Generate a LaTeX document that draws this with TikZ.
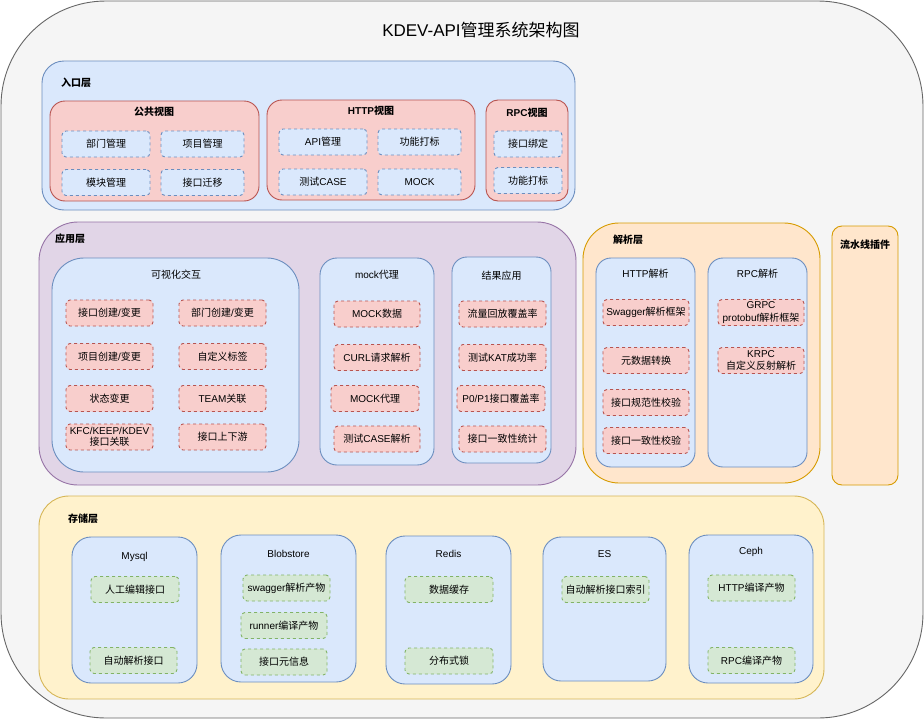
\documentclass[tikz,border=0pt]{standalone}
\usepackage{fontspec}
\setmainfont{Liberation Sans}
\newfontfamily\cjkfont{Noto Sans CJK SC}
\newfontfamily\latinfont{Liberation Sans}
% switch to the CJK font for Han characters, back for the rest
\XeTeXinterchartokenstate=1
\newXeTeXintercharclass\cjkclass
\count255="4E00
\loop\ifnum\count255<"A000
  \XeTeXcharclass\count255=\cjkclass
  \advance\count255 by 1
\repeat
\XeTeXinterchartoks 0 \cjkclass={\cjkfont}
\XeTeXinterchartoks 4095 \cjkclass={\cjkfont}
\XeTeXinterchartoks \cjkclass 0={\latinfont}
\usepackage{tikz}
\usetikzlibrary{fit}
\usepackage{xcolor}

\definecolor{greyfill}{HTML}{F5F5F5}  \definecolor{greyline}{HTML}{666666}
\definecolor{bluefill}{HTML}{DAE8FC}  \definecolor{blueline}{HTML}{6C8EBF}
\definecolor{redfill}{HTML}{F8CECC}   \definecolor{redline}{HTML}{B85450}
\definecolor{purplefill}{HTML}{E1D5E7}\definecolor{purpleline}{HTML}{9673A6}
\definecolor{orangefill}{HTML}{FFE6CC}\definecolor{orangeline}{HTML}{D79B00}
\definecolor{yellowfill}{HTML}{FFF2CC}\definecolor{yellowline}{HTML}{D6B656}
\definecolor{greenfill}{HTML}{D5E8D4} \definecolor{greenline}{HTML}{82B366}

\newcommand{\txtsize}{\fontsize{10}{12.5}\selectfont}

\tikzset{
  box/.style={draw=#1line, fill=#1fill, line width=0.9pt, inner sep=0pt, outer sep=0pt},
  panel/.style 2 args={box=#1, rounded corners=#2pt},
  tag/.style={box=#1, dash pattern=on 3pt off 3pt, rounded corners=4pt,
    minimum width=87pt, minimum height=26pt, align=center, font=\txtsize},
  caption/.style={font=\txtsize, inner sep=0pt},
  heading/.style={font=\txtsize\bfseries, inner sep=0pt},
}

\begin{document}
\begin{tikzpicture}[x=1pt,y=-1pt]
\useasboundingbox (0,0) rectangle (924,720);
% background
\node[panel={grey}{105}, fit={(1,1) (923,718)}] (frame) {};
\node[font=\fontsize{17}{20}\selectfont, inner sep=0pt] (title) at (481,30) {KDEV-API管理系统架构图};

% entry layer
\node[panel={blue}{22}, fit={(42,61) (575,210)}] (entry) {};
\node[heading, anchor=west] (entryT) at (61,83) {入口层};
\node[panel={red}{15}, fit={(50,101) (259,201)}] (pubView) {};
\node[heading] (pubViewT) at (154,112) {公共视图};
\node[tag=blue, minimum width=88pt] (deptMgr) at (106,144) {部门管理};
\node[tag=blue, minimum width=83pt] (projMgr) at (202.5,144) {项目管理};
\node[tag=blue, minimum width=88pt] (modMgr) at (106,182.5) {模块管理};
\node[tag=blue, minimum width=83pt] (apiMove) at (202.5,182.5) {接口迁移};
\node[panel={red}{15}, fit={(267,100) (475,200)}] (httpView) {};
\node[heading] (httpViewT) at (371,111) {HTTP视图};
\node[tag=blue, minimum width=88pt] (apiMgr) at (323,142) {API管理};
\node[tag=blue, minimum width=83pt] (httpMark) at (419.5,142) {功能打标};
\node[tag=blue, minimum width=88pt] (testCase) at (323,182) {测试CASE};
\node[tag=blue, minimum width=83pt] (mock) at (419.5,182) {MOCK};
\node[panel={red}{12}, fit={(486,100) (568,201)}] (rpcView) {};
\node[heading] (rpcViewT) at (527,113) {RPC视图};
\node[tag=blue, minimum width=68pt] (apiBind) at (528,144) {接口绑定};
\node[tag=blue, minimum width=68pt] (rpcMark) at (528,180.5) {功能打标};

% application layer
\node[panel={purple}{39}, fit={(39,222) (576,485)}] (app) {};
\node[heading, anchor=west] (appT) at (55,239) {应用层};
\node[panel={blue}{32}, fit={(52,258) (299,472)}] (visual) {};
\node[caption] (visualT) at (176,275) {可视化交互};
\node[tag=red] (apiEdit) at (109.5,313) {接口创建/变更};
\node[tag=red] (deptEdit) at (222.5,313) {部门创建/变更};
\node[tag=red] (projEdit) at (109.5,356.5) {项目创建/变更};
\node[tag=red] (custTag) at (222.5,356.5) {自定义标签};
\node[tag=red] (stateEdit) at (109.5,398.5) {状态变更};
\node[tag=red] (teamLink) at (222.5,398.5) {TEAM关联};
\node[tag=red, font=\fontsize{10}{11.5}\selectfont] (kfcLink) at (109.5,437) {KFC/KEEP/KDEV\\接口关联};
\node[tag=red] (upDown) at (222.5,437) {接口上下游};
\node[panel={blue}{17}, fit={(320,258) (434,465)}] (mockProxy) {};
\node[caption] (mockProxyT) at (377,275) {mock代理};
\node[tag=red, minimum width=86pt] (mockData) at (377,314) {MOCK数据};
\node[tag=red, minimum width=86pt] (curlParse) at (377,357.5) {CURL请求解析};
\node[tag=red, minimum width=88pt] (mockAgent) at (375,398.5) {MOCK代理};
\node[tag=red, minimum width=86pt] (caseParse) at (377,439) {测试CASE解析};
\node[panel={blue}{15}, fit={(452,257) (551,463)}] (result) {};
\node[caption] (resultT) at (501.5,276) {结果应用};
\node[tag=red] (replayCov) at (502.5,314) {流量回放覆盖率};
\node[tag=red] (katRate) at (502.5,357.5) {测试KAT成功率};
\node[tag=red, minimum width=88pt] (p0Cov) at (501,398.5) {P0/P1接口覆盖率};
\node[tag=red] (apiStat) at (502.5,439) {接口一致性统计};

% parse layer
\node[panel={orange}{36}, fit={(583,223) (820,483)}] (parse) {};
\node[heading, anchor=west] (parseT) at (613,240) {解析层};
\node[panel={blue}{15}, fit={(596,258) (695,467)}] (httpParse) {};
\node[caption] (httpParseT) at (645.5,274) {HTTP解析};
\node[tag=red, minimum width=86pt] (swagger) at (646,312.5) {Swagger解析框架};
\node[tag=red, minimum width=86pt] (metaConv) at (646,360.5) {元数据转换};
\node[tag=red, minimum width=86pt] (specCheck) at (646,402.5) {接口规范性校验};
\node[tag=red, minimum width=86pt] (consCheck) at (646,440.5) {接口一致性校验};
\node[panel={blue}{15}, fit={(708,258) (807,467)}] (rpcParse) {};
\node[caption] (rpcParseT) at (757.5,274) {RPC解析};
\node[tag=red, minimum width=86pt, font=\fontsize{10}{12.5}\selectfont] (grpc) at (761,312.5) {GRPC\\protobuf解析框架};
\node[tag=red, minimum width=86pt, font=\fontsize{10}{12.5}\selectfont] (krpc) at (761,360.5) {KRPC\\自定义反射解析};

% pipeline plugin
\node[panel={orange}{10}, fit={(832,226) (898,485)}] (pipe) {};
\node[heading, anchor=west] (pipeT) at (840,245) {流水线插件};

% storage layer
\node[panel={yellow}{30}, fit={(39,496) (824,699)}] (store) {};
\node[heading, anchor=west] (storeT) at (68,519) {存储层};
\node[panel={blue}{19}, fit={(72,537) (197,683)}] (mysql) {};
\node[caption] (mysqlT) at (134.5,557) {Mysql};
\node[tag=green, minimum width=88pt] (manualApi) at (135,589.5) {人工编辑接口};
\node[tag=green] (autoApi) at (133.5,660.5) {自动解析接口};
\node[panel={blue}{20}, fit={(221,535) (356,682)}] (blob) {};
\node[caption] (blobT) at (288.5,554) {Blobstore};
\node[tag=green] (swagOut) at (286.5,588) {swagger解析产物};
\node[tag=green, minimum width=86pt] (runnerOut) at (284,625.5) {runner编译产物};
\node[tag=green, minimum width=86pt] (apiMeta) at (284,662) {接口元信息};
\node[panel={blue}{19}, fit={(386,536) (511,684)}] (redis) {};
\node[caption] (redisT) at (448.5,554) {Redis};
\node[tag=green, minimum width=88pt] (cache) at (449,589.5) {数据缓存};
\node[tag=green, minimum width=88pt] (lock) at (449,661) {分布式锁};
\node[panel={blue}{18}, fit={(543,537) (666,681)}] (es) {};
\node[caption] (esT) at (604.5,554) {ES};
\node[tag=green] (apiIndex) at (605.5,589.5) {自动解析接口索引};
\node[panel={blue}{19}, fit={(689,535) (813,683)}] (ceph) {};
\node[caption] (cephT) at (751,552) {Ceph};
\node[tag=green] (httpOut) at (751.5,588) {HTTP编译产物};
\node[tag=green] (rpcOut) at (751.5,660.5) {RPC编译产物};
\end{tikzpicture}
\end{document}
